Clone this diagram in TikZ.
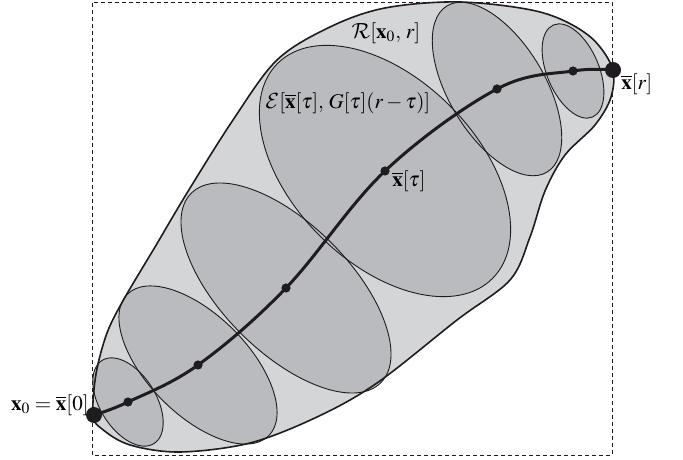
\documentclass[tikz,border=0pt]{standalone}
\usepackage{amsmath}
\usepackage{mathptmx}
\usetikzlibrary{arrows.meta}
\DeclareMathAlphabet{\mathcal}{OMS}{cmsy}{m}{n}
\definecolor{regiongray}{RGB}{212,213,215}
\definecolor{ellipsegray}{RGB}{186,187,191}
\definecolor{inkblack}{RGB}{30,28,30}

\begin{document}
\begin{tikzpicture}[x=0.5pt, y=0.5pt, >=Latex,
    region/.style={fill=regiongray, draw=inkblack, line width=0.8pt},
    ellline/.style={draw=inkblack, line width=0.45pt},
    trajdot/.style={circle, fill=inkblack, inner sep=0pt, minimum size=4.6pt},
    bigdot/.style={circle, fill=inkblack, inner sep=0pt, minimum size=8pt},
    lbl/.style={inner sep=1pt, font=\fontsize{10.5}{12}\selectfont}]
      \useasboundingbox (0,0) rectangle (683,459);
      \draw[inkblack, line width=0.4pt, dash pattern=on 2pt off 1.5pt] (92,4) rectangle (612,457);
      % points on the trajectory
      \coordinate (p0) at (94,44);
      \coordinate (p1) at (128,57);
      \coordinate (p2) at (198,94);
      \coordinate (p3) at (286,171);
      \coordinate (p4) at (385,288);
      \coordinate (p5) at (497,370);
      \coordinate (p6) at (573,388);
      \coordinate (p7) at (613,389);
      % reachable region
      \fill[regiongray] plot[smooth cycle, tension=0.55] coordinates {
        (93,44) (96,85) (107,126) (124,160) (155,212) (187,266) (233,339)
        (277,399) (330,432) (385,451) (460,457) (540,447) (588,424) (612,392)
        (611,362) (595,334) (565,304) (545,268) (530,222) (510,179) (457,139)
        (377,76) (317,42) (250,16) (180,7) (130,14) (102,30)};
      % ellipsoids along the trajectory
      \foreach \c/\a/\b/\r in {p1/49/28/-58, p2/100/50/-45, p3/134/64/-45,
          p4/152/92/-45, p5/97/48/-59, p6/50/26/-67}
        \fill[ellipsegray, shift={(\c)}, rotate=\r] (0,0) ellipse[x radius=\a, y radius=\b];
      \foreach \c/\a/\b/\r in {p1/49/28/-58, p2/100/50/-45, p3/134/64/-45,
          p4/152/92/-45, p5/97/48/-59, p6/50/26/-67}
        \draw[ellline, shift={(\c)}, rotate=\r] (0,0) ellipse[x radius=\a, y radius=\b];
      \draw[region, fill=none] plot[smooth cycle, tension=0.55] coordinates {
        (93,44) (96,85) (107,126) (124,160) (155,212) (187,266) (233,339)
        (277,399) (330,432) (385,451) (460,457) (540,447) (588,424) (612,392)
        (611,362) (595,334) (565,304) (545,268) (530,222) (510,179) (457,139)
        (377,76) (317,42) (250,16) (180,7) (130,14) (102,30)};
      % trajectory
      \draw[inkblack, line width=1.5pt] plot[smooth, tension=0.6]
        coordinates {(p0) (p1) (p2) (p3) (p4) (p5) (p6) (p7)};
      \foreach \c in {p1,p2,p3,p4,p5,p6}
        \node[trajdot] (dot-\c) at (\c) {};
      \node[bigdot] (start) at (p0) {};
      \node[bigdot] (end) at (p7) {};
      % labels
      \node[lbl, anchor=east] (startlbl) at (91,54) {$\mathbf{x}_0 = \overline{\mathbf{x}}[0]$};
      \node[lbl, anchor=west] (endlbl) at (619,375) {$\overline{\mathbf{x}}[r]$};
      \node[lbl, anchor=west] (midlbl) at (390,278) {$\overline{\mathbf{x}}[\tau]$};
      \node[lbl] (elllbl) at (348,356) {$\mathcal{E}[\overline{\mathbf{x}}[\tau],\, G[\tau](r-\tau)]$};
      \node[lbl] (reglbl) at (386,426) {$\mathcal{R}[\mathbf{x}_0,\, r]$};
\end{tikzpicture}
\end{document}
